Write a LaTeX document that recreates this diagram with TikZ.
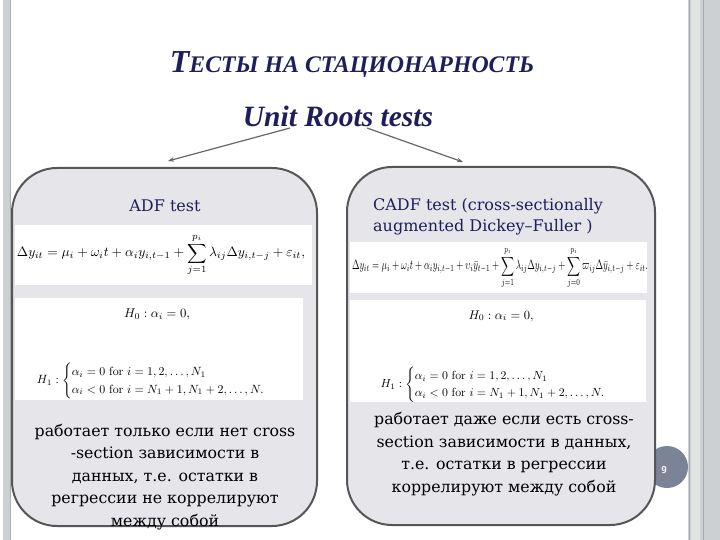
\documentclass[tikz,border=0pt]{standalone}
\usepackage[no-math]{fontspec}
\usepackage{amsmath,graphicx}
\setmainfont{DejaVu Serif}
\newfontfamily\headfont{Liberation Serif}
\usetikzlibrary{arrows.meta}
\definecolor{navy}{HTML}{1E1E5A}
\definecolor{boxfill}{HTML}{E5E5EA}
\definecolor{boxline}{HTML}{555658}
\definecolor{stripe}{HTML}{CDD0D3}
\definecolor{stripedark}{HTML}{A8ACB1}
\definecolor{arrowc}{HTML}{67676A}
\definecolor{pagec}{HTML}{7B8496}
\begin{document}
\begin{tikzpicture}[x=1pt,y=-1pt,
  panel/.style={draw=boxline,line width=2pt,fill=boxfill,rounded corners=45pt,inner sep=0pt},
  band/.style={fill=white,inner sep=0pt},
  navytext/.style={text=navy,font=\fontsize{16}{21}\selectfont},
  bodytext/.style={align=center,font=\fontsize{15.8}{22.5}\selectfont,text=black,inner sep=0pt},
  conn/.style={draw=arrowc,line width=1.2pt,-{Stealth[length=6pt,width=4.5pt]}},
  eq/.style={inner sep=0pt}
  ]
\useasboundingbox (0,0) rectangle (720,540);
\fill[white] (0,0) rectangle (720,540);
% side stripes
\fill[stripe] (3,0) rectangle (11,540);
\draw[stripedark,line width=1pt] (10.5,0) -- (10.5,540);
\fill[stripe] (688,0) rectangle (720,540);
\draw[stripedark,line width=1.5pt] (689.5,0) -- (689.5,540);
\fill[stripe!60] (691,0) rectangle (700,540);
\draw[stripedark,line width=1pt] (703,0) -- (703,540);

% titles
\node[anchor=base,text=navy,font=\headfont\bfseries\itshape,inner sep=0pt] (title) at (352,73)
  {{\fontsize{32}{32}\selectfont Т}{\fontsize{23.8}{24}\selectfont ЕСТЫ НА СТАЦИОНАРНОСТЬ}};
\node[anchor=base,text=navy,font=\headfont\bfseries\itshape\fontsize{29.5}{30}\selectfont,inner sep=0pt] (unit) at (338,127)
  {Unit Roots tests};

% connectors
\coordinate (ls) at (290,128);
\coordinate (le) at (168,161);
\coordinate (rs) at (367,128);
\coordinate (re) at (463,162);
\draw[conn] (ls) -- (le);
\draw[conn] (rs) -- (re);

% page number
\node[circle,fill=pagec,minimum size=42pt,inner sep=0pt] (page) at (667,467) {};
\node[text=white,font=\sffamily\bfseries\fontsize{10}{10}\selectfont,inner sep=0pt] (pnum) at (664,470) {9};

% panels
\node[panel,minimum width=305pt,minimum height=358pt] (left) at (164.5,347) {};
\node[panel,minimum width=308pt,minimum height=358pt] (right) at (501,346) {};

% white bands
\node[band,minimum width=297pt,minimum height=60pt] (lb1) at (163.5,255) {};
\node[band,minimum width=288pt,minimum height=102pt] (lb2) at (159,349) {};
\node[band,minimum width=297pt,minimum height=51pt] (rb1) at (498.5,267.5) {};
\node[band,minimum width=296pt,minimum height=102pt] (rb2) at (498,351) {};

% headings
\node[navytext] (adf) at (165,206) {ADF test};
\node[navytext,align=left,anchor=west,inner sep=0pt] (cadf) at (373,217)
  {CADF test (cross-sectionally\\augmented Dickey--Fuller )};

% formulas left
\node[eq] (lf) at (161,255) {\resizebox{288pt}{!}{$\displaystyle \Delta y_{it}=\mu_i+\omega_i t+\alpha_i y_{i,t-1}+\sum_{j=1}^{p_i}\lambda_{ij}\Delta y_{i,t-j}+\varepsilon_{it},$}};
\node[eq] (lh0) at (157,314) {\resizebox{66pt}{!}{$H_0:\alpha_i=0,$}};
\node[eq] (lh1) at (157,381) {\resizebox{240pt}{!}{$H_1:\begin{cases}\alpha_i=0\ \mathrm{for}\ i=1,2,\ldots,N_1\\ \alpha_i<0\ \mathrm{for}\ i=N_1+1,N_1+2,\ldots,N.\end{cases}$}};

% formulas right
\node[eq] (rf) at (500,268) {\resizebox*{296pt}{42pt}{$\displaystyle \Delta y_{it}=\mu_i+\omega_i t+\alpha_i y_{i,t-1}+\upsilon_i\bar y_{t-1}+\sum_{j=1}^{p_i}\lambda_{ij}\Delta y_{i,t-j}+\sum_{j=0}^{p_i}\varpi_{ij}\Delta\bar y_{i,t-j}+\varepsilon_{it}.$}};
\node[eq] (rh0) at (501,316) {\resizebox{65pt}{!}{$H_0:\alpha_i=0,$}};
\node[eq] (rh1) at (499,385) {\resizebox{237pt}{!}{$H_1:\begin{cases}\alpha_i=0\ \mathrm{for}\ i=1,2,\ldots,N_1\\ \alpha_i<0\ \mathrm{for}\ i=N_1+1,N_1+2,\ldots,N.\end{cases}$}};

% body texts
\node[bodytext] (ltext) at (165,477)
  {работает только если нет cross\\-section зависимости в\\данных, т.е. остатки в\\регрессии не коррелируют\\между собой};
\node[bodytext] (rtext) at (504,454)
  {работает даже если есть cross-\\section зависимости в данных,\\т.е. остатки в регрессии\\коррелируют между собой};
\end{tikzpicture}
\end{document}
